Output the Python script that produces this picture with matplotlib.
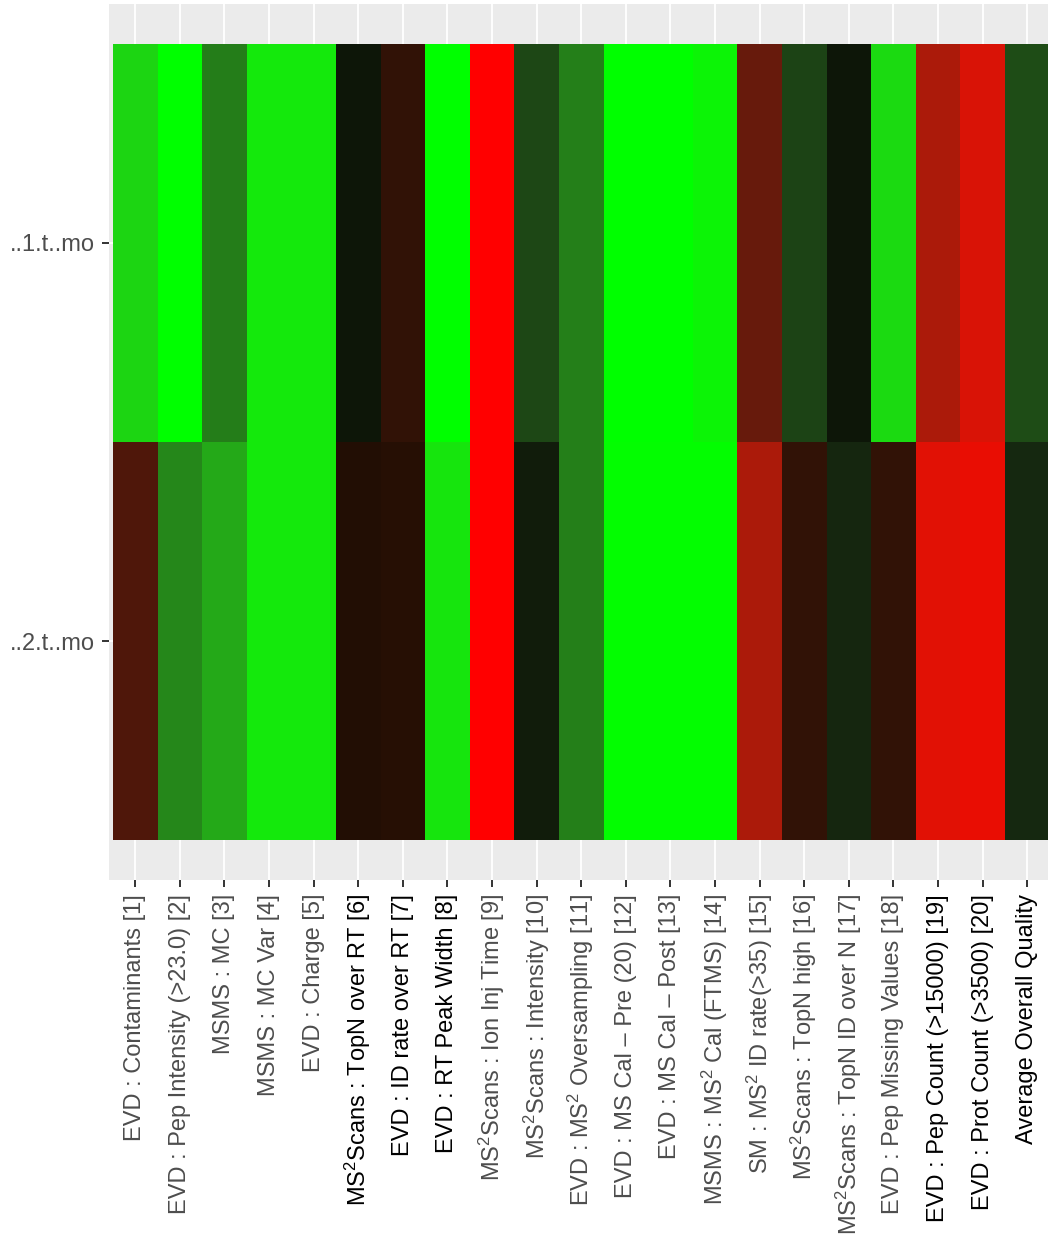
import numpy as np
import matplotlib
matplotlib.use("Agg")
import matplotlib.pyplot as plt
from matplotlib.colors import ListedColormap

# data
metrics = [
    "EVD : Contaminants [1]",
    "EVD : Pep Intensity (>23.0) [2]",
    "MSMS : MC [3]",
    "MSMS : MC Var [4]",
    "EVD : Charge [5]",
    "MS$^2$Scans : TopN over RT [6]",
    "EVD : ID rate over RT [7]",
    "EVD : RT Peak Width [8]",
    "MS$^2$Scans : Ion Inj Time [9]",
    "MS$^2$Scans : Intensity [10]",
    "EVD : MS$^2$ Oversampling [11]",
    "EVD : MS Cal – Pre (20) [12]",
    "EVD : MS Cal – Post [13]",
    "MSMS : MS$^2$ Cal (FTMS) [14]",
    "SM : MS$^2$ ID rate(>35) [15]",
    "MS$^2$Scans : TopN high [16]",
    "MS$^2$Scans : TopN ID over N [17]",
    "EVD : Pep Missing Values [18]",
    "EVD : Pep Count (>15000) [19]",
    "EVD : Prot Count (>3500) [20]",
    "Average Overall Quality",
]
dark_labels = [6, 7, 8, 19, 20, 21]
raw_files = ["..1.t..mo", "..2.t..mo"]

score_1 = [0.925, 1.0, 0.76, 0.96, 0.96, 0.535, 0.41, 1.0, 0.0, 0.65, 0.765,
           1.0, 1.0, 0.98, 0.29, 0.64, 0.535, 0.935, 0.155, 0.07, 0.66]
score_2 = [0.34, 0.78, 0.845, 0.96, 0.96, 0.445, 0.435, 0.955, 0.0, 0.55, 0.765,
           0.995, 0.995, 0.995, 0.155, 0.41, 0.575, 0.41, 0.055, 0.04, 0.58]


# red -> black -> green, interpolated in Lab like ggplot does
def srgb_to_lab(c):
    c = np.asarray(c, float)
    lin = np.where(c <= 0.04045, c / 12.92, ((c + 0.055) / 1.055) ** 2.4)
    M = np.array([[0.4124, 0.3576, 0.1805],
                  [0.2126, 0.7152, 0.0722],
                  [0.0193, 0.1192, 0.9505]])
    xyz = M @ lin / np.array([0.95047, 1.0, 1.08883])
    f = np.where(xyz > 0.008856, np.cbrt(xyz), 7.787 * xyz + 16 / 116)
    return np.array([116 * f[1] - 16, 500 * (f[0] - f[1]), 200 * (f[1] - f[2])])


def lab_to_srgb(lab):
    L, a, b = lab
    fy = (L + 16) / 116
    f = np.array([fy + a / 500, fy, fy - b / 200])
    xyz = np.where(f > 0.206893, f ** 3, (f - 16 / 116) / 7.787)
    xyz = xyz * np.array([0.95047, 1.0, 1.08883])
    Minv = np.array([[3.2406, -1.5372, -0.4986],
                     [-0.9689, 1.8758, 0.0415],
                     [0.0557, -0.2040, 1.0570]])
    lin = np.clip(Minv @ xyz, 0, 1)
    c = np.where(lin <= 0.0031308, 12.92 * lin, 1.055 * lin ** (1 / 2.4) - 0.055)
    return np.clip(c, 0, 1)


red_lab = srgb_to_lab([1, 0, 0])
black_lab = srgb_to_lab([0, 0, 0])
green_lab = srgb_to_lab([0, 1, 0])
cols = []
for t in np.linspace(0, 1, 512):
    if t <= 0.5:
        u = t / 0.5
        lab = red_lab * (1 - u) + black_lab * u
    else:
        u = (t - 0.5) / 0.5
        lab = black_lab * (1 - u) + green_lab * u
    cols.append(lab_to_srgb(lab))
cmap = ListedColormap(cols)

plt.rcParams['font.family'] = ['Liberation Sans', 'DejaVu Sans']
plt.rcParams['mathtext.fontset'] = 'custom'
plt.rcParams['mathtext.rm'] = 'Liberation Sans'
plt.rcParams['mathtext.it'] = 'Liberation Sans'
plt.rcParams['mathtext.default'] = 'regular'

fig = plt.figure(figsize=(10.48, 12.37), dpi=100)
ax = fig.add_axes([108.5 / 1048, 1 - 880 / 1237, 945.5 / 1048, 876 / 1237])
ax.set_facecolor("#EBEBEB")

z = np.array([score_1, score_2])
xe = np.arange(len(metrics) + 1) + 0.5
ye = np.arange(len(raw_files) + 1) + 0.5
ax.pcolormesh(xe, ye, z, cmap=cmap, vmin=0, vmax=1, zorder=2)

ax.set_xlim(0.4, len(metrics) + 0.6)
ax.set_ylim(len(raw_files) + 0.6, 0.4)

xt = np.arange(1, len(metrics) + 1)
ax.set_xticks(xt)
ax.set_xticklabels(metrics, rotation=90, ha="center", va="top", fontsize=17)
for i, lab in enumerate(ax.get_xticklabels()):
    lab.set_color("black" if (i + 1) in dark_labels else "#4D4D4D")
ax.set_yticks(np.arange(1, len(raw_files) + 1))
ax.set_yticklabels(raw_files, fontsize=17, color="#4D4D4D")

ax.tick_params(length=5, width=1.4, color="#333333", pad=5)
ax.grid(True, color="white", linewidth=1.3, zorder=1)
ax.set_axisbelow(True)
for s in ax.spines.values():
    s.set_visible(False)

fig.savefig("out.png", dpi=100)
